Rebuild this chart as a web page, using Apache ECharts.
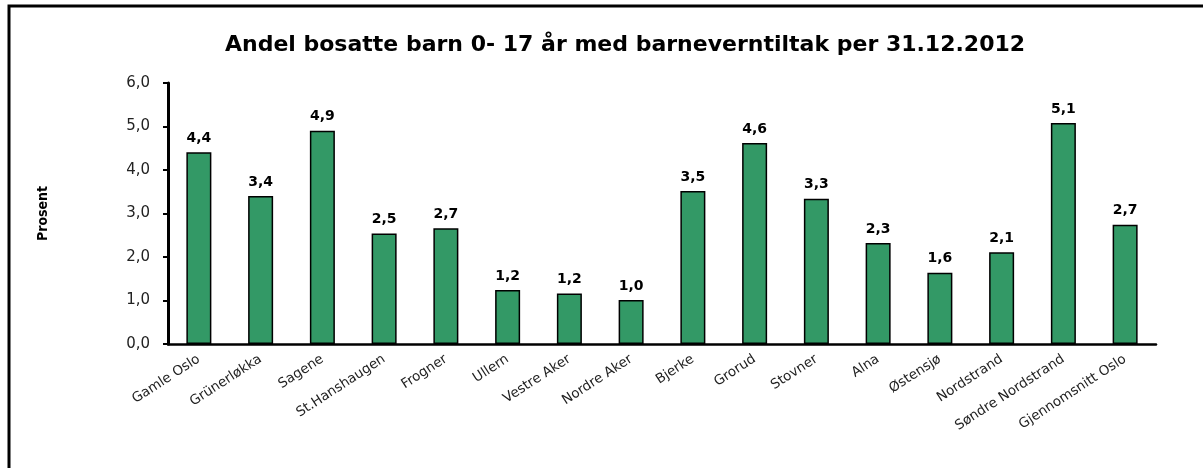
<!DOCTYPE html>
<html>
<head>
<meta charset="utf-8">
<script src="https://cdn.jsdelivr.net/npm/echarts@6/dist/echarts.min.js"></script>
<style>
  html, body { margin: 0; padding: 0; background: #fff; }
  #chart { width: 1203px; height: 468px; }
</style>
</head>
<body>
<div id="chart"></div>
<script>
var bydeler = ['Gamle Oslo', 'Grünerløkka', 'Sagene', 'St.Hanshaugen', 'Frogner', 'Ullern',
    'Vestre Aker', 'Nordre Aker', 'Bjerke', 'Grorud', 'Stovner', 'Alna', 'Østensjø',
    'Nordstrand', 'Søndre Nordstrand', 'Gjennomsnitt Oslo'];
var andel = [4.41, 3.40, 4.90, 2.54, 2.66, 1.24, 1.16, 1.01, 3.52, 4.62, 3.34, 2.32, 1.64, 2.11, 5.08, 2.74];

function komma(v) {
    return v.toFixed(1).replace('.', ',');
}

var chart = echarts.init(document.getElementById('chart'));

chart.setOption({
    animation: false,
    title: {
        text: 'Andel bosatte barn 0- 17 år med barneverntiltak per 31.12.2012',
        left: 620,
        textAlign: 'center',
        top: 29,
        textStyle: {
            fontFamily: 'DejaVu Sans',
            fontSize: 22,
            fontWeight: 'bold',
            color: '#000'
        }
    },
    grid: {
        left: 168,
        right: 47,
        top: 83,
        bottom: 124
    },
    xAxis: {
        type: 'category',
        data: bydeler,
        axisLine: { lineStyle: { color: '#000', width: 2.5 } },
        axisTick: { length: 4, lineStyle: { color: '#000', width: 2 } },
        axisLabel: {
            interval: 0,
            rotate: 33,
            margin: 14,
            fontFamily: 'DejaVu Sans',
            fontSize: 13.5,
            color: '#222'
        }
    },
    yAxis: {
        type: 'value',
        min: 0,
        max: 6,
        interval: 1,
        name: 'Prosent',
        nameLocation: 'middle',
        nameRotate: 90,
        nameGap: 118,
        nameTextStyle: {
            fontFamily: 'Liberation Sans Narrow, DejaVu Sans Condensed',
            fontSize: 14,
            fontWeight: 'bold',
            color: '#000'
        },
        axisLine: { show: true, lineStyle: { color: '#000', width: 3 } },
        axisTick: { show: true, length: 5, lineStyle: { color: '#000', width: 2 } },
        splitLine: { show: false },
        axisLabel: {
            formatter: function (v) { return komma(v); },
            margin: 18,
            fontFamily: 'DejaVu Sans',
            fontSize: 15,
            color: '#222'
        }
    },
    series: [{
        type: 'bar',
        data: andel,
        barWidth: 25,
        itemStyle: {
            color: '#339966',
            borderColor: '#000',
            borderWidth: 1.5
        },
        label: {
            show: true,
            position: 'top',
            distance: 7,
            formatter: function (p) { return komma(p.value); },
            fontFamily: 'DejaVu Sans',
            fontSize: 14,
            fontWeight: 'bold',
            color: '#000'
        }
    }],
    graphic: [
        {
            type: 'polyline',
            shape: { points: [[9, 470], [9, 6], [1210, 6]] },
            style: { stroke: '#000', lineWidth: 3, fill: null }
        }
    ]
});
</script>
</body>
</html>
